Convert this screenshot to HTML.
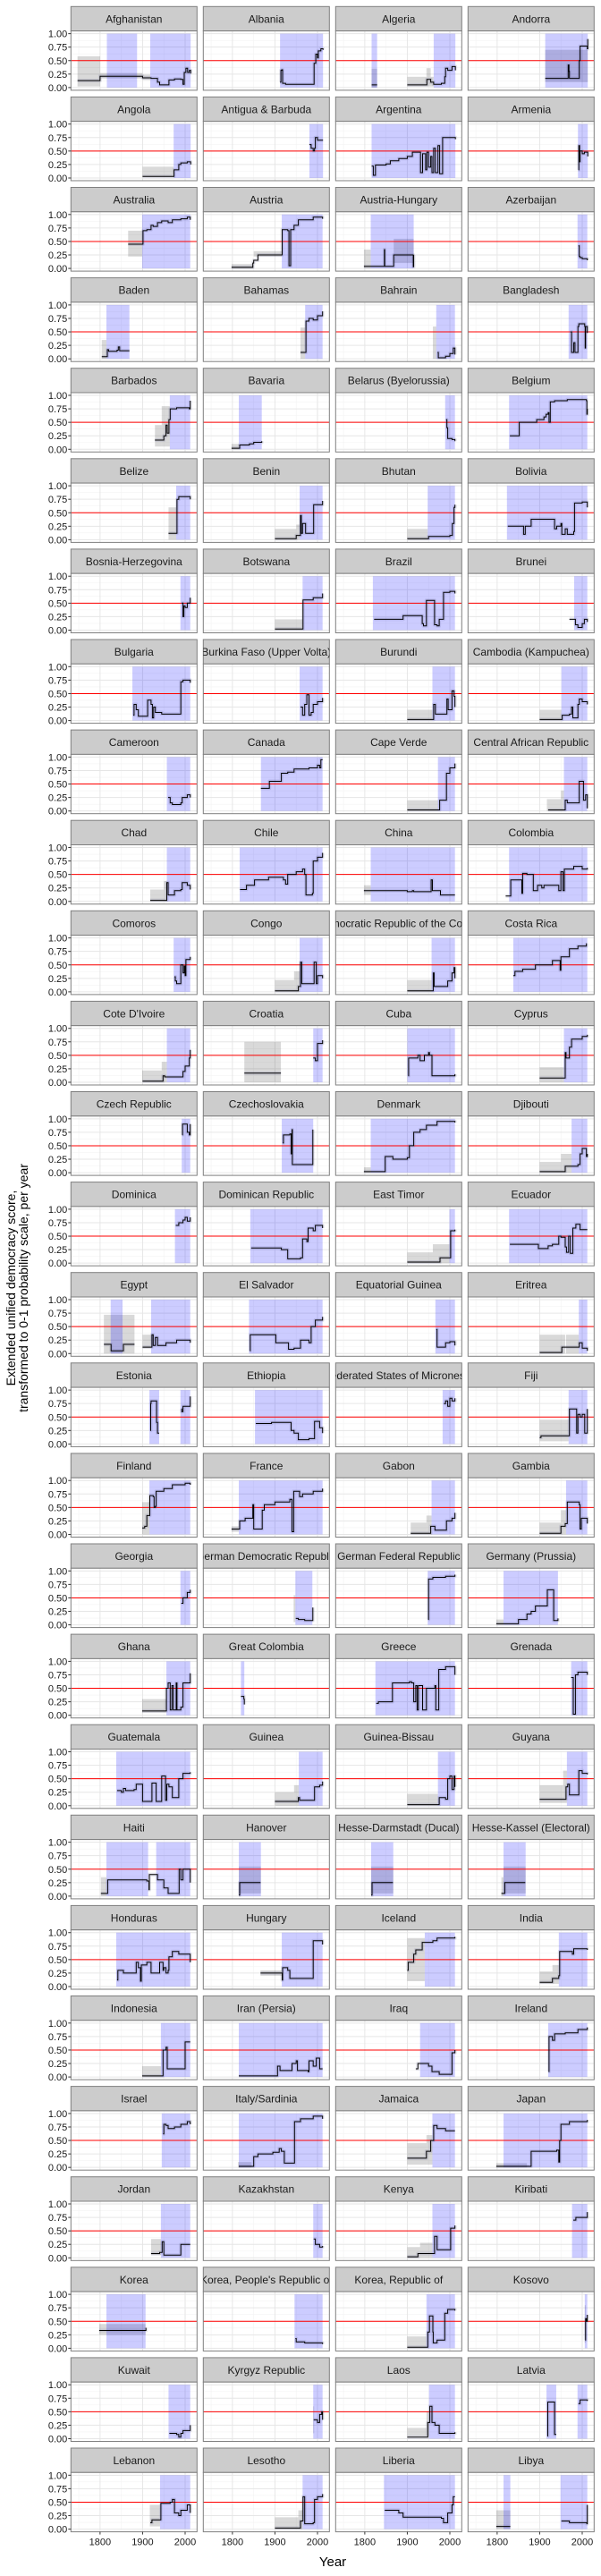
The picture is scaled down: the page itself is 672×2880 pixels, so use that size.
<!DOCTYPE html>
<html><head><meta charset="utf-8"><title>Extended unified democracy score by country</title>
<style>
html,body{margin:0;padding:0;background:#fff;}
svg{display:block;font-family:"Liberation Sans",Arial,sans-serif;}
</style></head>
<body>
<svg id="chart" width="672" height="2880" viewBox="0 0 672 2880" xmlns="http://www.w3.org/2000/svg">
<rect x="0" y="0" width="672" height="2880" fill="#fff"/>
<g id="panels"></g>
<text transform="translate(17,1440) rotate(-90)" text-anchor="middle" font-size="14" fill="#000">Extended unified democracy score,</text>
<text transform="translate(31,1440) rotate(-90)" text-anchor="middle" font-size="14" fill="#000">transformed to 0-1 probability scale, per year</text>
<text x="372" y="2869" text-anchor="middle" font-size="15" fill="#000">Year</text>
</svg>
<script>
const countries = ["Afghanistan","Albania","Algeria","Andorra","Angola","Antigua & Barbuda","Argentina","Armenia","Australia","Austria","Austria-Hungary","Azerbaijan","Baden","Bahamas","Bahrain","Bangladesh","Barbados","Bavaria","Belarus (Byelorussia)","Belgium","Belize","Benin","Bhutan","Bolivia","Bosnia-Herzegovina","Botswana","Brazil","Brunei","Bulgaria","Burkina Faso (Upper Volta)","Burundi","Cambodia (Kampuchea)","Cameroon","Canada","Cape Verde","Central African Republic","Chad","Chile","China","Colombia","Comoros","Congo","Democratic Republic of the Congo","Costa Rica","Cote D'Ivoire","Croatia","Cuba","Cyprus","Czech Republic","Czechoslovakia","Denmark","Djibouti","Dominica","Dominican Republic","East Timor","Ecuador","Egypt","El Salvador","Equatorial Guinea","Eritrea","Estonia","Ethiopia","Federated States of Micronesia","Fiji","Finland","France","Gabon","Gambia","Georgia","German Democratic Republic","German Federal Republic","Germany (Prussia)","Ghana","Great Colombia","Greece","Grenada","Guatemala","Guinea","Guinea-Bissau","Guyana","Haiti","Hanover","Hesse-Darmstadt (Ducal)","Hesse-Kassel (Electoral)","Honduras","Hungary","Iceland","India","Indonesia","Iran (Persia)","Iraq","Ireland","Israel","Italy/Sardinia","Jamaica","Japan","Jordan","Kazakhstan","Kenya","Kiribati","Korea","Korea, People's Republic of","Korea, Republic of","Kosovo","Kuwait","Kyrgyz Republic","Laos","Latvia","Lebanon","Lesotho","Liberia","Libya"];

const blueSpans = [
[[1816,1887],[1918,2013]],[[1912,2013]],[[1816,1829],[1962,2013]],[[1913,2013]],
[[1973,2013]],[[1981,2013]],[[1816,2013]],[[1990,2013]],
[[1899,2012]],[[1916,2012]],[[1814,1915]],[[1989,2012]],
[[1815,1869]],[[1971,2012]],[[1968,2012]],[[1968,2012]],
[[1964,2012]],[[1815,1869]],[[1989,2012]],[[1828,2012]],
[[1979,2012]],[[1958,2012]],[[1948,2012]],[[1823,2012]],
[[1989,2012]],[[1965,2012]],[[1819,2012]],[[1981,2012]],
[[1876,2012]],[[1958,2012]],[[1959,2012]],[[1951,2012]],
[[1957,2012]],[[1867,2012]],[[1972,2012]],[[1957,2012]],
[[1957,2012]],[[1817,2012]],[[1814,2012]],[[1828,2012]],
[[1973,2012]],[[1958,2012]],[[1957,2012]],[[1838,2012]],
[[1957,2012]],[[1990,2012]],[[1900,2012]],[[1957,2012]],
[[1992,2012]],[[1916,1990]],[[1814,2012]],[[1975,2012]],
[[1976,2012]],[[1842,2012]],[[1999,2012]],[[1828,2012]],
[[1825,1853],[1920,2012]],[[1839,2012]],[[1966,2012]],[[1992,2012]],
[[1916,1939],[1989,2012]],[[1853,2012]],[[1983,2012]],[[1968,2012]],
[[1916,2012]],[[1815,2012]],[[1957,2012]],[[1962,2012]],
[[1989,2012]],[[1948,1988]],[[1948,2012]],[[1815,1943]],
[[1956,2012]],[[1820,1828]],[[1825,2012]],[[1974,2012]],
[[1838,2012]],[[1956,2012]],[[1972,2012]],[[1964,2012]],
[[1815,1913],[1932,2012]],[[1815,1867]],[[1815,1867]],[[1815,1867]],
[[1838,2012]],[[1916,2012]],[[1941,2012]],[[1945,2012]],
[[1943,2012]],[[1815,2012]],[[1930,2012]],[[1920,2012]],
[[1945,2012]],[[1815,2012]],[[1959,2012]],[[1815,2012]],
[[1943,2012]],[[1990,2012]],[[1959,2012]],[[1976,2012]],
[[1815,1907]],[[1946,2012]],[[1945,2012]],[[2006,2012]],
[[1961,2012]],[[1990,2012]],[[1951,2012]],[[1916,1939],[1989,2012]],
[[1941,2012]],[[1965,2012]],[[1845,2012]],[[1815,1831],[1949,2012]]
];

const grayBoxes = [
[[1747,1800,0.02,0.58],[1800,1900,0.17,0.27],[1900,1918,0.14,0.24]],[],[[1816,1829,0,0.35],[1900,1945,0.02,0.2],[1945,1955,0.02,0.36],[1955,1962,0.02,0.2]],[[1913,2013,0.1,0.7]],
[[1900,1973,0.02,0.21]],[],[],[],
[[1866,1899,0.22,0.7]],[[1798,1850,0,0.08],[1850,1916,0.22,0.32]],[[1798,1814,0,0.35],[1868,1915,0.1,0.55]],[],
[[1804,1815,0,0.35]],[[1960,1971,0,0.58]],[[1960,1968,0,0.6]],[],
[[1929,1945,0.05,0.45],[1945,1964,0.05,0.8]],[[1798,1815,0,0.1]],[],[],
[[1961,1979,0,0.6]],[[1900,1950,0,0.2],[1950,1958,0,0.28]],[[1900,1948,0,0.2]],[],
[],[[1900,1965,0,0.2]],[],[],
[],[],[[1900,1959,0,0.2]],[[1900,1951,0,0.2]],
[],[],[[1900,1972,0,0.2]],[[1917,1950,0,0.22],[1950,1957,0,0.38]],
[[1918,1950,0,0.22],[1950,1957,0,0.38]],[],[[1798,1814,0.12,0.3]],[],
[],[[1900,1945,0,0.22],[1945,1958,0,0.38]],[[1900,1957,0,0.22]],[],
[[1899,1945,0,0.22],[1945,1957,0,0.38]],[[1828,1914,0,0.75]],[],[[1900,1957,0,0.28]],
[],[],[[1798,1814,0,0.1]],[[1900,1950,0,0.2],[1950,1975,0,0.35]],
[],[],[[1900,1960,0,0.2],[1960,1999,0,0.35]],[],
[[1809,1881,0,0.72],[1900,1920,0.1,0.35]],[],[],[[1900,1960,0,0.35],[1962,1992,0,0.35]],
[],[],[],[[1900,1968,0.05,0.45]],
[[1899,1916,0,0.6]],[[1798,1815,0.05,0.15]],[[1908,1945,0,0.22],[1945,1957,0,0.35]],[[1900,1950,0,0.22],[1950,1962,0,0.45]],
[],[[1944,1948,0.05,0.55]],[],[[1798,1815,0,0.1]],
[[1899,1956,0.05,0.3]],[],[],[],
[],[[1900,1945,0,0.25],[1945,1956,0,0.38]],[[1900,1972,0,0.22]],[[1900,1955,0.05,0.38],[1955,1964,0.05,0.65]],
[[1802,1815,0,0.35]],[[1815,1867,0.05,0.55]],[[1815,1867,0.05,0.55]],[[1810,1815,0,0.35],[1815,1867,0.05,0.55]],
[],[[1866,1916,0.2,0.3]],[[1900,1941,0.1,0.9]],[[1900,1930,0.05,0.28],[1930,1945,0.05,0.4]],
[[1899,1943,0,0.2]],[],[],[],
[],[[1813,1845,0,0.1]],[[1900,1945,0.05,0.45],[1945,1959,0.05,0.6]],[[1798,1870,0,0.08]],
[[1920,1943,0.05,0.35]],[],[[1900,1930,0,0.2],[1930,1959,0,0.28]],[],
[[1798,1907,0.25,0.45]],[],[[1900,1945,0,0.22]],[[2006,2008,0.1,0.8]],
[],[[1990,1992,0.1,0.6]],[[1900,1945,0.05,0.2],[1945,1951,0.05,0.5]],[],
[[1917,1941,0.05,0.45]],[[1900,1955,0,0.22],[1955,1965,0,0.35]],[],[[1798,1831,0,0.35]]
];

const series = [
[[1747,0.13],[1800,0.21],[1900,0.18],[1920,0.17],[1935,0.1],[1940,0.05],[1960,0.05],[1962,0.14],[1975,0.16],[1990,0.15],[1995,0.06],[1998,0.28],[2002,0.36],[2006,0.28],[2010,0.32],[2013,0.26]],
[[1912,0.1],[1914,0.32],[1916,0.33],[1918,0.08],[1925,0.06],[1991,0.06],[1992,0.45],[1996,0.62],[2000,0.55],[2002,0.68],[2008,0.72],[2013,0.7]],
[[1816,0.05],[1829,0.05],[null,null],[1900,0.05],[1945,0.05],[1946,0.15],[1955,0.1],[1962,0.06],[1980,0.08],[1988,0.2],[1990,0.36],[1995,0.32],[2005,0.39],[2013,0.32]],
[[1913,0.17],[1965,0.17],[1967,0.42],[1969,0.3],[1970,0.17],[1991,0.17],[1993,0.5],[1995,0.77],[2010,0.77],[2012,0.72],[2013,0.9]],
[[1900,0.03],[1973,0.03],[1974,0.15],[1980,0.15],[1985,0.25],[1990,0.28],[2005,0.3],[2013,0.25]],
[[1981,0.62],[1985,0.55],[1990,0.5],[1993,0.55],[1995,0.75],[2000,0.7],[2013,0.7]],
[[1816,0.22],[1820,0.05],[1825,0.24],[1850,0.26],[1860,0.32],[1880,0.36],[1900,0.4],[1912,0.48],[1930,0.48],[1931,0.1],[1936,0.45],[1943,0.15],[1946,0.48],[1950,0.2],[1955,0.4],[1958,0.1],[1962,0.55],[1966,0.1],[1972,0.6],[1976,0.08],[1983,0.75],[2013,0.72]],
[[1991,0.15],[1992,0.6],[1994,0.3],[1995,0.5],[2000,0.45],[2005,0.48],[2013,0.4]],
[[1866,0.45],[1900,0.45],[1901,0.7],[1910,0.72],[1920,0.8],[1925,0.78],[1935,0.85],[1945,0.88],[1960,0.85],[1970,0.9],[1990,0.92],[2005,0.95],[2012,0.9]],
[[1798,0.02],[1846,0.02],[1848,0.1],[1850,0.15],[1860,0.25],[1916,0.25],[1917,0.72],[1930,0.7],[1933,0.05],[1935,0.05],[1937,0.72],[1945,0.8],[1955,0.9],[1990,0.95],[2012,0.92]],
[[1798,0.04],[1845,0.04],[1846,0.35],[1847,0.04],[1867,0.04],[1868,0.25],[1913,0.25],[1914,0.03],[1915,0.25]],
[[1991,0.42],[1993,0.22],[1995,0.2],[2000,0.18],[2012,0.15]],
[[1804,0.04],[1815,0.04],[1817,0.17],[1820,0.14],[1840,0.16],[1843,0.22],[1846,0.15],[1869,0.15]],
[[1960,0.12],[1972,0.12],[1973,0.7],[1980,0.75],[1990,0.72],[2000,0.8],[2012,0.88]],
[[1971,0.12],[1973,0.02],[1990,0.05],[2000,0.1],[2008,0.2],[2012,0.08]],
[[1972,0.5],[1975,0.12],[1980,0.3],[1983,0.12],[1990,0.6],[1992,0.65],[2006,0.6],[2007,0.2],[2008,0.6],[2012,0.48]],
[[1929,0.17],[1945,0.17],[1950,0.25],[1955,0.45],[1958,0.3],[1962,0.55],[1965,0.75],[1980,0.77],[2010,0.75],[2012,0.9]],
[[1798,0.02],[1815,0.02],[1817,0.08],[1840,0.1],[1850,0.13],[1869,0.15]],
[[1991,0.55],[1993,0.4],[1995,0.2],[2005,0.18],[2012,0.15]],
[[1830,0.25],[1850,0.25],[1852,0.5],[1890,0.5],[1893,0.55],[1910,0.6],[1915,0.65],[1920,0.68],[1922,0.5],[1925,0.88],[1935,0.9],[1965,0.92],[2010,0.9],[2011,0.65],[2012,0.75]],
[[1961,0.12],[1980,0.12],[1981,0.75],[1985,0.8],[2012,0.75]],
[[1900,0.02],[1946,0.02],[1950,0.08],[1960,0.45],[1962,0.12],[1965,0.3],[1972,0.12],[1990,0.12],[1991,0.65],[2000,0.65],[2012,0.72]],
[[1900,0.02],[1948,0.02],[1950,0.06],[2000,0.08],[2006,0.3],[2010,0.6],[2012,0.65]],
[[1825,0.25],[1860,0.25],[1862,0.1],[1866,0.25],[1880,0.38],[1925,0.38],[1935,0.2],[1940,0.25],[1950,0.3],[1952,0.1],[1960,0.2],[1965,0.1],[1980,0.15],[1982,0.68],[2000,0.7],[2012,0.6]],
[[1992,0.5],[1995,0.25],[1997,0.45],[2000,0.42],[2005,0.5],[2012,0.6]],
[[1900,0.02],[1962,0.02],[1966,0.56],[1990,0.6],[2012,0.68]],
[[1822,0.2],[1889,0.2],[1890,0.27],[1930,0.27],[1935,0.12],[1938,0.08],[1945,0.55],[1960,0.55],[1964,0.1],[1970,0.08],[1975,0.2],[1985,0.7],[2000,0.72],[2012,0.68]],
[[1970,0.2],[1984,0.1],[1990,0.05],[2000,0.12],[2005,0.2],[2012,0.15]],
[[1878,0.1],[1880,0.3],[1885,0.2],[1890,0.08],[1910,0.08],[1912,0.38],[1920,0.3],[1923,0.05],[1926,0.25],[1930,0.15],[1945,0.12],[1989,0.12],[1990,0.72],[1995,0.75],[2012,0.7]],
[[1960,0.25],[1965,0.1],[1970,0.3],[1975,0.48],[1980,0.1],[1985,0.15],[1990,0.3],[2000,0.35],[2012,0.42]],
[[1900,0.02],[1942,0.02],[1962,0.3],[1966,0.12],[1990,0.12],[1993,0.4],[1996,0.2],[2005,0.55],[2010,0.45],[2012,0.25]],
[[1900,0.02],[1950,0.02],[1953,0.1],[1970,0.12],[1975,0.25],[1978,0.05],[1990,0.3],[1993,0.4],[2000,0.35],[2012,0.3]],
[[1960,0.25],[1965,0.15],[1970,0.12],[1990,0.15],[1993,0.25],[2005,0.3],[2012,0.25]],
[[1867,0.42],[1885,0.42],[1887,0.55],[1910,0.55],[1915,0.7],[1930,0.72],[1945,0.78],[1980,0.8],[2000,0.85],[2005,0.8],[2008,0.95],[2012,0.95]],
[[1900,0.02],[1975,0.02],[1976,0.2],[1990,0.2],[1992,0.7],[2000,0.8],[2012,0.88]],
[[1920,0.02],[1955,0.02],[1960,0.2],[1965,0.15],[1990,0.15],[1993,0.55],[2000,0.55],[2003,0.2],[2008,0.3],[2012,0.05]],
[[1918,0.02],[1940,0.02],[1957,0.35],[1960,0.12],[1970,0.12],[1975,0.2],[1990,0.22],[1993,0.35],[2005,0.3],[2012,0.22]],
[[1818,0.22],[1830,0.22],[1833,0.3],[1850,0.3],[1852,0.4],[1880,0.4],[1885,0.45],[1920,0.4],[1925,0.32],[1930,0.5],[1950,0.55],[1965,0.6],[1970,0.5],[1973,0.12],[1988,0.15],[1990,0.75],[2000,0.82],[2012,0.9]],
[[1798,0.2],[1900,0.18],[1912,0.2],[1915,0.18],[1949,0.18],[1956,0.4],[1959,0.2],[1975,0.2],[1978,0.12],[2012,0.12]],
[[1820,0.1],[1830,0.1],[1832,0.4],[1855,0.4],[1858,0.15],[1860,0.52],[1870,0.5],[1885,0.2],[1895,0.3],[1905,0.25],[1910,0.3],[1930,0.3],[1945,0.2],[1950,0.55],[1955,0.2],[1958,0.6],[1980,0.65],[2000,0.6],[2012,0.62]],
[[1975,0.28],[1977,0.2],[1980,0.15],[1990,0.5],[1995,0.35],[1998,0.48],[2000,0.3],[2002,0.6],[2012,0.65]],
[[1900,0.02],[1945,0.02],[1955,0.1],[1960,0.55],[1963,0.15],[1990,0.15],[1992,0.55],[1997,0.15],[2000,0.3],[2012,0.25]],
[[1900,0.02],[1960,0.02],[1961,0.35],[1963,0.1],[1990,0.1],[1995,0.2],[2005,0.35],[2010,0.45],[2012,0.25]],
[[1838,0.3],[1842,0.38],[1860,0.42],[1890,0.5],[1910,0.5],[1930,0.58],[1947,0.58],[1948,0.4],[1950,0.65],[1970,0.8],[1990,0.85],[2005,0.85],[2010,0.9]],
[[1900,0.02],[1945,0.02],[1948,0.12],[1952,0.1],[1990,0.1],[1995,0.2],[2000,0.3],[2010,0.45],[2012,0.6]],
[[1828,0.17],[1914,0.17],[null,null],[1990,0.45],[1995,0.4],[2000,0.72],[2012,0.78]],
[[1902,0.12],[1903,0.45],[1920,0.45],[1925,0.5],[1930,0.4],[1940,0.5],[1950,0.55],[1952,0.5],[1958,0.12],[2012,0.15]],
[[1900,0.08],[1958,0.08],[1960,0.55],[1962,0.45],[1970,0.65],[1975,0.8],[2000,0.85],[2012,0.88]],
[[1993,0.7],[1994,0.9],[2000,0.9],[2005,0.75],[2010,0.7],[2012,0.9]],
[[1918,0.55],[1920,0.7],[1935,0.72],[1938,0.35],[1940,0.8],[1941,0.15],[1988,0.15],[1989,0.8]],
[[1798,0.02],[1830,0.02],[1848,0.3],[1865,0.3],[1866,0.25],[1900,0.28],[1905,0.5],[1915,0.75],[1930,0.8],[1945,0.88],[1970,0.95],[2012,0.93]],
[[1900,0.02],[1955,0.02],[1960,0.12],[1990,0.15],[1995,0.35],[2000,0.45],[2010,0.3],[2012,0.35]],
[[1978,0.7],[1985,0.75],[1995,0.8],[2000,0.85],[2005,0.78],[2012,0.85]],
[[1844,0.28],[1910,0.28],[1915,0.25],[1930,0.08],[1960,0.1],[1965,0.45],[1975,0.4],[1978,0.65],[1990,0.6],[1995,0.7],[2012,0.65]],
[[1900,0.02],[1975,0.02],[1977,0.1],[1999,0.1],[2002,0.6],[2012,0.62]],
[[1830,0.35],[1895,0.35],[1897,0.27],[1915,0.27],[1920,0.32],[1930,0.35],[1945,0.5],[1950,0.48],[1960,0.3],[1963,0.2],[1968,0.5],[1972,0.18],[1978,0.65],[1985,0.72],[1995,0.62],[2012,0.62]],
[[1809,0.17],[1825,0.17],[1826,0.05],[1853,0.05],[1855,0.17],[1881,0.17],[null,null],[1900,0.12],[1920,0.12],[1922,0.35],[1925,0.15],[1930,0.3],[1935,0.15],[1955,0.2],[1975,0.2],[1980,0.25],[2012,0.2]],
[[1841,0.05],[1842,0.35],[1900,0.35],[1902,0.2],[1930,0.2],[1932,0.08],[1945,0.1],[1960,0.25],[1980,0.2],[1985,0.5],[1995,0.62],[2012,0.68]],
[[1968,0.45],[1970,0.12],[1980,0.12],[1990,0.2],[2000,0.22],[2012,0.15]],
[[1900,0.02],[1950,0.02],[1952,0.12],[1990,0.12],[1993,0.2],[2000,0.1],[2012,0.05]],
[[1918,0.25],[1919,0.75],[1920,0.8],[1930,0.8],[1933,0.4],[1935,0.2],[1939,0.2],[null,null],[1991,0.65],[1992,0.6],[1995,0.7],[2012,0.88]],
[[1855,0.38],[1890,0.38],[1892,0.4],[1935,0.4],[1938,0.25],[1945,0.2],[1955,0.08],[1975,0.08],[1980,0.1],[1990,0.1],[1993,0.42],[2005,0.3],[2012,0.2]],
[[1986,0.75],[1990,0.8],[1995,0.7],[2000,0.85],[2005,0.8],[2012,0.85]],
[[1900,0.12],[1903,0.15],[1965,0.15],[1970,0.65],[1985,0.65],[1987,0.2],[1990,0.55],[1995,0.5],[2000,0.55],[2006,0.2],[2010,0.2],[2012,0.65]],
[[1899,0.12],[1905,0.15],[1910,0.35],[1917,0.72],[1925,0.7],[1927,0.5],[1930,0.52],[1932,0.8],[1950,0.85],[1970,0.92],[2000,0.95],[2012,0.92]],
[[1798,0.1],[1815,0.1],[1817,0.25],[1830,0.3],[1848,0.55],[1850,0.1],[1855,0.1],[1870,0.45],[1875,0.55],[1900,0.6],[1935,0.65],[1940,0.05],[1944,0.8],[1958,0.7],[1965,0.75],[1990,0.8],[2012,0.85]],
[[1908,0.02],[1945,0.02],[1955,0.15],[1965,0.08],[1990,0.08],[1992,0.25],[2005,0.3],[2012,0.4]],
[[1900,0.02],[1945,0.02],[1950,0.15],[1960,0.2],[1965,0.6],[1980,0.6],[1993,0.55],[1995,0.1],[1998,0.3],[2012,0.2]],
[[1991,0.4],[1995,0.5],[2000,0.5],[2005,0.6],[2012,0.65]],
[[1949,0.12],[1955,0.1],[1970,0.08],[1988,0.08],[1989,0.32]],
[[1949,0.1],[1950,0.85],[1960,0.88],[1990,0.9],[2012,0.93]],
[[1798,0.02],[1840,0.02],[1850,0.1],[1870,0.2],[1880,0.25],[1890,0.35],[1915,0.35],[1918,0.65],[1932,0.65],[1933,0.08],[1943,0.12]],
[[1899,0.08],[1950,0.08],[1956,0.5],[1960,0.6],[1965,0.1],[1969,0.55],[1972,0.1],[1979,0.6],[1981,0.1],[1990,0.15],[1995,0.6],[2012,0.78]],
[[1820,0.35],[1827,0.3],[1828,0.2]],
[[1827,0.22],[1832,0.25],[1860,0.25],[1865,0.6],[1905,0.62],[1910,0.6],[1915,0.25],[1920,0.55],[1923,0.1],[1926,0.55],[1936,0.1],[1945,0.5],[1965,0.55],[1967,0.1],[1974,0.85],[1990,0.9],[2012,0.75]],
[[1974,0.7],[1979,0.02],[1984,0.75],[1990,0.8],[2012,0.75]],
[[1840,0.28],[1850,0.25],[1855,0.32],[1860,0.28],[1880,0.3],[1885,0.4],[1899,0.4],[1900,0.08],[1920,0.08],[1922,0.42],[1930,0.42],[1932,0.08],[1944,0.08],[1945,0.55],[1954,0.1],[1957,0.4],[1962,0.35],[1970,0.15],[1985,0.5],[1995,0.6],[2012,0.62]],
[[1900,0.08],[1945,0.08],[1955,0.15],[1958,0.1],[1985,0.1],[1993,0.35],[2005,0.38],[2012,0.45]],
[[1900,0.02],[1970,0.02],[1975,0.15],[1990,0.12],[1995,0.5],[2000,0.55],[2005,0.3],[2010,0.55],[2012,0.35]],
[[1900,0.12],[1955,0.12],[1962,0.35],[1966,0.4],[1970,0.2],[1990,0.2],[1992,0.65],[2000,0.6],[2012,0.58]],
[[1802,0.05],[1817,0.05],[1818,0.3],[1850,0.3],[1910,0.28],[1915,0.12],[1916,0.4],[1930,0.4],[1935,0.3],[1950,0.15],[1960,0.05],[1980,0.05],[1986,0.5],[1990,0.3],[1995,0.5],[2012,0.25]],
[[1815,0.02],[1817,0.25],[1866,0.25]],
[[1815,0.02],[1817,0.25],[1866,0.25]],
[[1810,0.05],[1817,0.05],[1818,0.25],[1866,0.25]],
[[1840,0.12],[1842,0.3],[1850,0.3],[1855,0.25],[1880,0.25],[1885,0.45],[1890,0.35],[1895,0.1],[1897,0.4],[1910,0.45],[1920,0.25],[1935,0.25],[1940,0.45],[1948,0.3],[1950,0.35],[1955,0.25],[1960,0.3],[1962,0.55],[1970,0.65],[1985,0.6],[2012,0.45]],
[[1866,0.25],[1916,0.25],[1917,0.12],[1918,0.35],[1930,0.3],[1935,0.15],[1988,0.15],[1990,0.85],[2005,0.85],[2012,0.78]],
[[1900,0.3],[1902,0.45],[1915,0.6],[1920,0.68],[1935,0.82],[1945,0.82],[1960,0.85],[1970,0.9],[2012,0.92]],
[[1900,0.08],[1920,0.08],[1930,0.15],[1945,0.2],[1947,0.65],[1975,0.65],[1977,0.6],[1980,0.7],[2012,0.68]],
[[1899,0.02],[1945,0.02],[1948,0.5],[1955,0.55],[1958,0.15],[1998,0.15],[2000,0.65],[2012,0.65]],
[[1815,0.02],[1905,0.02],[1906,0.2],[1912,0.12],[1920,0.12],[1940,0.25],[1950,0.3],[1953,0.12],[1978,0.1],[1980,0.3],[1990,0.2],[1997,0.35],[2005,0.15],[2012,0.15]],
[[1920,0.15],[1925,0.25],[1935,0.25],[1950,0.2],[1958,0.1],[1975,0.05],[2003,0.05],[2005,0.45],[2012,0.5]],
[[1921,0.1],[1922,0.75],[1930,0.68],[1935,0.8],[1960,0.82],[1990,0.88],[2012,0.92]],
[[1948,0.62],[1950,0.8],[1955,0.78],[1960,0.72],[1975,0.75],[1990,0.8],[2005,0.85],[2012,0.8]],
[[1815,0.02],[1845,0.02],[1850,0.2],[1860,0.25],[1895,0.28],[1910,0.35],[1915,0.3],[1922,0.08],[1943,0.08],[1946,0.85],[1960,0.9],[1990,0.95],[2012,0.9]],
[[1900,0.17],[1940,0.17],[1945,0.3],[1955,0.5],[1962,0.78],[1970,0.72],[1990,0.68],[2012,0.68]],
[[1798,0.02],[1870,0.02],[1880,0.3],[1940,0.32],[1945,0.1],[1947,0.5],[1950,0.8],[1970,0.85],[2012,0.88]],
[[1920,0.08],[1940,0.1],[1946,0.3],[1950,0.05],[1980,0.05],[1990,0.25],[2012,0.25]],
[[1991,0.35],[1995,0.25],[2005,0.2],[2012,0.22]],
[[1900,0.02],[1920,0.02],[1925,0.08],[1962,0.08],[1964,0.4],[1970,0.15],[1990,0.15],[2002,0.55],[2012,0.6]],
[[1979,0.7],[1985,0.75],[2012,0.85]],
[[1798,0.33],[1907,0.33],[1908,0.38]],
[[1948,0.18],[1950,0.12],[1970,0.1],[2012,0.08]],
[[1900,0.02],[1945,0.02],[1948,0.3],[1952,0.6],[1960,0.3],[1961,0.1],[1970,0.15],[1985,0.15],[1988,0.65],[1995,0.72],[2012,0.7]],
[[2007,0.15],[2008,0.55],[2010,0.5],[2012,0.62]],
[[1963,0.1],[1980,0.08],[1985,0.03],[1990,0.1],[1995,0.15],[2012,0.25]],
[[1991,0.35],[2000,0.3],[2005,0.45],[2010,0.5],[2012,0.35]],
[[1900,0.03],[1945,0.03],[1948,0.3],[1953,0.6],[1958,0.3],[1965,0.25],[1975,0.1],[2012,0.12]],
[[1918,0.05],[1919,0.68],[1934,0.68],[1935,0.08],[1939,0.08],[null,null],[1991,0.65],[1995,0.72],[2012,0.7]],
[[1918,0.12],[1922,0.17],[1940,0.17],[1943,0.48],[1965,0.5],[1970,0.55],[1975,0.3],[1985,0.25],[1990,0.35],[2005,0.45],[2012,0.3]],
[[1900,0.02],[1955,0.02],[1960,0.15],[1966,0.6],[1970,0.1],[1990,0.12],[1993,0.55],[2000,0.6],[2012,0.65]],
[[1847,0.35],[1880,0.3],[1890,0.22],[1980,0.2],[1985,0.12],[1995,0.3],[2005,0.45],[2008,0.6],[2012,0.6]],
[[1798,0.05],[1831,0.05],[null,null],[1951,0.15],[1970,0.12],[2011,0.1],[2012,0.45]]
];

const yTickValues = [0, 0.25, 0.5, 0.75, 1];
const yTickLabels = ["0.00", "0.25", "0.50", "0.75", "1.00"];
const xTickYears = [1800, 1900, 2000];
const xMinorYears = [1750, 1850, 1950];
const threshold = [0.5];

const NS = "http://www.w3.org/2000/svg";
const panelsG = document.getElementById("panels");
const COLS = 4, COL0 = 79.3, COLP = 148, PW = 141;
const ROW0 = 7.3, ROWP = 101.1, SH = 27.3, PH = 66.3;
const XMIN = 1731.5, XMAX = 2028, VMIN = -0.05, VMAX = 1.05;

function mk(tag, attrs, parent) {
  const e = document.createElementNS(NS, tag);
  for (const k in attrs) e.setAttribute(k, attrs[k]);
  parent.appendChild(e);
  return e;
}
function slug(s) { return s.toLowerCase().replace(/[^a-z0-9]+/g, "-").replace(/^-|-$/g, ""); }

const nRows = Math.ceil(countries.length / COLS);
countries.forEach(function (name, i) {
  const r = Math.floor(i / COLS), c = i % COLS;
  const px = COL0 + c * COLP;
  const st = ROW0 + r * ROWP;
  const pt = st + SH;
  const xs = function (yr) { return px + (yr - XMIN) / (XMAX - XMIN) * PW; };
  const ys = function (v) { return pt + (VMAX - v) / (VMAX - VMIN) * PH; };
  const g = mk("g", {}, panelsG);
  
  

  const strip = mk("rect", {x: px, y: st, width: PW, height: SH, fill: "#cccccc", stroke: "#7f7f7f", "stroke-width": 1}, g);
  
  
  const clipId = "clipS" + i;
  const cp = mk("clipPath", {id: clipId}, g);
  mk("rect", {x: px, y: st, width: PW, height: SH}, cp);
  const st_t = mk("text", {x: px + PW / 2, y: st + 18, "text-anchor": "middle", "font-size": 12, fill: "#1a1a1a", "clip-path": "url(#" + clipId + ")"}, g);
  st_t.textContent = name;
  
  

  mk("rect", {x: px, y: pt, width: PW, height: PH, fill: "#fff"}, g);
  xMinorYears.forEach(function (yr) { mk("line", {x1: xs(yr), x2: xs(yr), y1: pt, y2: pt + PH, stroke: "#f3f3f3", "stroke-width": 0.6}, g); });
  [0.125, 0.375, 0.625, 0.875].forEach(function (v) { mk("line", {x1: px, x2: px + PW, y1: ys(v), y2: ys(v), stroke: "#f3f3f3", "stroke-width": 0.6}, g); });
  xTickYears.forEach(function (yr) { mk("line", {x1: xs(yr), x2: xs(yr), y1: pt, y2: pt + PH, stroke: "#e6e6e6", "stroke-width": 1}, g); });
  yTickValues.forEach(function (v) { mk("line", {x1: px, x2: px + PW, y1: ys(v), y2: ys(v), stroke: "#e6e6e6", "stroke-width": 1}, g); });

  grayBoxes[i].forEach(function (b) {
    const rr = mk("rect", {x: xs(b[0]), y: ys(b[3]), width: Math.max(1, xs(b[1]) - xs(b[0])), height: ys(b[2]) - ys(b[3]), fill: "rgba(0,0,0,0.15)"}, g);
    
    
  });
  blueSpans[i].forEach(function (b) {
    const rr = mk("rect", {x: xs(b[0]), y: ys(1), width: xs(b[1]) - xs(b[0]), height: ys(0) - ys(1), fill: "rgba(0,0,255,0.2)"}, g);
    
    
  });
  const th = mk("line", {x1: px, x2: px + PW, y1: ys(threshold[0]), y2: ys(threshold[0]), stroke: "#ff0000", "stroke-width": 1}, g);
  
  

  let d = "", started = false;
  series[i].forEach(function (p) {
    if (p[0] === null) { started = false; return; }
    if (!started) { d += "M" + xs(p[0]).toFixed(1) + " " + ys(p[1]).toFixed(1); started = true; }
    else { d += "H" + xs(p[0]).toFixed(1) + "V" + ys(p[1]).toFixed(1); }
  });
  const band = mk("path", {d: d, fill: "none", stroke: "rgba(70,70,130,0.14)", "stroke-width": 4, "stroke-linejoin": "round"}, g);
  
  
  const ln = mk("path", {d: d, fill: "none", stroke: "#000", "stroke-width": 1}, g);
  
  

  mk("rect", {x: px, y: pt, width: PW, height: PH, fill: "none", stroke: "#7f7f7f", "stroke-width": 1}, g);

  if (c === 0) {
    yTickValues.forEach(function (v, k) {
      mk("line", {x1: px - 3, x2: px, y1: ys(v), y2: ys(v), stroke: "#333", "stroke-width": 1}, g);
      const t = mk("text", {x: px - 4, y: ys(v) + 4, "text-anchor": "end", "font-size": 11, fill: "#1a1a1a"}, g);
      t.textContent = yTickLabels[k];
      
      
    });
  }
  if (r === nRows - 1) {
    xTickYears.forEach(function (yr) {
      mk("line", {x1: xs(yr), x2: xs(yr), y1: pt + PH, y2: pt + PH + 3, stroke: "#333", "stroke-width": 1}, g);
      const t = mk("text", {x: xs(yr), y: pt + PH + 15, "text-anchor": "middle", "font-size": 11, fill: "#1a1a1a"}, g);
      t.textContent = yr;
      
      
    });
  }
});
</script>
</body></html>
